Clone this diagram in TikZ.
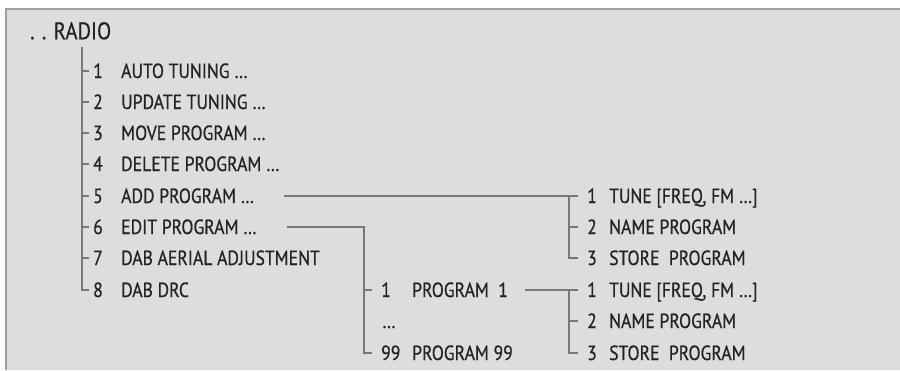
\documentclass[tikz,border=0pt]{standalone}
\usepackage{fontspec}
\setmainfont[FakeStretch=0.86,FakeBold=0.6]{PT Sans}

\definecolor{panel}{RGB}{220,221,223}
\definecolor{rim}{RGB}{160,161,163}
\definecolor{treeline}{RGB}{120,120,122}
\definecolor{ink}{RGB}{35,35,37}

\tikzset{
  tree/.style={draw=treeline, line width=1.3pt},
  rimline/.style={draw=rim, line width=2pt},
  num/.style={anchor=west, inner sep=0pt, text height=14pt, text depth=0pt, text=ink,
    font=\fontsize{20.5}{24}\selectfont},
  lab/.style={num},
  title/.style={anchor=west, inner sep=0pt, text height=16.5pt, text depth=0pt, text=ink,
    font=\fontsize{24}{28}\selectfont},
}

\begin{document}
\begin{tikzpicture}[x=1pt,y=-1pt]
\useasboundingbox (0,0) rectangle (900,370);
\fill[white] (0,0) rectangle (900,370);
\fill[panel] (6,9) rectangle (900,370);
\draw[rimline] (6,370) -- (6,9) -- (900,9);

%title
\node[title] (radio) at (30,31) {. . RADIO};
\coordinate (root) at (82,47);

%first level
\node[num] (n1) at (93,71)  {1};
\node[lab] (l1) at (121,71) {AUTO TUNING …};
\node[num] (n2) at (93,102)  {2};
\node[lab] (l2) at (121,102) {UPDATE TUNING …};
\node[num] (n3) at (93,133)  {3};
\node[lab] (l3) at (121,133) {MOVE PROGRAM …};
\node[num] (n4) at (93,164)  {4};
\node[lab] (l4) at (121,164) {DELETE PROGRAM …};
\node[num] (n5) at (93,196)  {5};
\node[lab] (l5) at (121,196) {ADD PROGRAM …};
\node[num] (n6) at (93,227)  {6};
\node[lab] (l6) at (121,227) {EDIT PROGRAM …};
\node[num] (n7) at (93,258)  {7};
\node[lab] (l7) at (121,258) {DAB AERIAL ADJUSTMENT};
\node[num] (n8) at (93,290)  {8};
\node[lab] (l8) at (121,290) {DAB DRC};

\draw[tree] (root) |- ([xshift=-4pt]n8.west);
\foreach \i in {1,...,7}
  \draw[tree] ([xshift=-11pt]n\i.west) -- ([xshift=-4pt]n\i.west);

%add program
\node[num] (a1) at (587,196) {1};
\node[lab] (la1) at (609,196) {TUNE [FREQ, FM …]};
\node[num] (a2) at (587,227) {2};
\node[lab] (la2) at (609,227) {NAME PROGRAM};
\node[num] (a3) at (587,258) {3};
\node[lab] (la3) at (609,258) {STORE\ \ PROGRAM};

\draw[tree] ([xshift=30pt]l5.east) -- ([xshift=-9pt]a1.west);
\draw[tree] ([xshift=-18pt]a1.west) |- ([xshift=-9pt]a3.west);
\draw[tree] ([xshift=-18pt]a2.west) -- ([xshift=-9pt]a2.west);

%edit program
\node[num] (p1) at (381,290) {1};
\node[lab] (lp1) at (412,290) {PROGRAM\ \ 1};
\node[num] (pdots) at (382,321) {…};
\node[num] (p99) at (381,353) {99};
\node[lab] (lp99) at (412,353) {PROGRAM 99};

\draw[tree] ([xshift=30pt]l6.east) -| ([xshift=-17pt]p99.west) -- ([xshift=-9pt]p99.west);
\draw[tree] ([xshift=-17pt]p1.west) -- ([xshift=-9pt]p1.west);

%program 1
\node[num] (b1) at (587,290) {1};
\node[lab] (lb1) at (609,290) {TUNE [FREQ, FM …]};
\node[num] (b2) at (587,321) {2};
\node[lab] (lb2) at (609,321) {NAME PROGRAM};
\node[num] (b3) at (587,353) {3};
\node[lab] (lb3) at (609,353) {STORE\ \ PROGRAM};

\draw[tree] ([xshift=17pt]lp1.east) -- ([xshift=-9pt]b1.west);
\draw[tree] ([xshift=-18pt]b1.west) |- ([xshift=-9pt]b3.west);
\draw[tree] ([xshift=-18pt]b2.west) -- ([xshift=-9pt]b2.west);

\end{tikzpicture}
\end{document}
